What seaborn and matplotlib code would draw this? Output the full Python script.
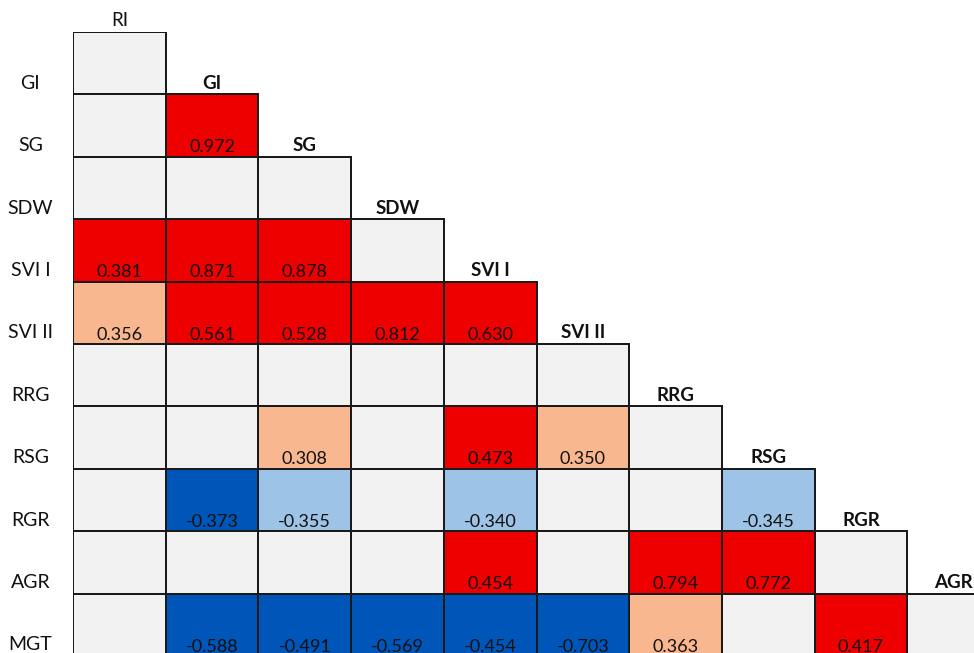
import numpy as np
import pandas as pd
import matplotlib
matplotlib.use("Agg")
import matplotlib.pyplot as plt
import seaborn as sns
from matplotlib.colors import ListedColormap

# Traits on each axis of the lower-triangular correlation matrix
row_traits = ["GI", "SG", "SDW", "SVI I", "SVI II", "RRG", "RSG", "RGR", "AGR", "MGT"]
col_traits = ["RI", "GI", "SG", "SDW", "SVI I", "SVI II", "RRG", "RSG", "RGR", "AGR"]

# Pearson r per row (None = not significant, shown blank)
r_gi = [None]
r_sg = [None, 0.972]
r_sdw = [None, None, None]
r_svi1 = [0.381, 0.871, 0.878, None]
r_svi2 = [0.356, 0.561, 0.528, 0.812, 0.630]
r_rrg = [None, None, None, None, None, None]
r_rsg = [None, None, 0.308, None, 0.473, 0.350, None]
r_rgr = [None, -0.373, -0.355, None, -0.340, None, None, -0.345]
r_agr = [None, None, None, None, 0.454, None, 0.794, 0.772, None]
r_mgt = [None, -0.588, -0.491, -0.569, -0.454, -0.703, 0.363, None, 0.417, None]

# Significance level per cell ("**" p<0.01, "*" p<0.05, "" not significant)
s_gi = [""]
s_sg = ["", "**"]
s_sdw = ["", "", ""]
s_svi1 = ["**", "**", "**", ""]
s_svi2 = ["*", "**", "**", "**", "**"]
s_rrg = ["", "", "", "", "", ""]
s_rsg = ["", "", "*", "", "**", "*", ""]
s_rgr = ["", "**", "*", "", "*", "", "", "*"]
s_agr = ["", "", "", "", "**", "", "**", "**", ""]
s_mgt = ["", "**", "**", "**", "**", "**", "*", "", "**", ""]

r_rows = [r_gi, r_sg, r_sdw, r_svi1, r_svi2, r_rrg, r_rsg, r_rgr, r_agr, r_mgt]
s_rows = [s_gi, s_sg, s_sdw, s_svi1, s_svi2, s_rrg, s_rsg, s_rgr, s_agr, s_mgt]

# Fill colours: not significant, +** , +*, -**, -*
palette = ["#F2F2F2", "#EE0000", "#F8B78E", "#0055B8", "#9DC3E6"]

n_rows, n_cols = len(row_traits), len(col_traits)
values = np.full((n_rows, n_cols), np.nan)
codes = np.full((n_rows, n_cols), np.nan)
for i, (rr, ss) in enumerate(zip(r_rows, s_rows)):
    for j, (v, s) in enumerate(zip(rr, ss)):
        if v is None or s == "":
            codes[i, j] = 0
        else:
            values[i, j] = v
            if v > 0:
                codes[i, j] = 1 if s == "**" else 2
            else:
                codes[i, j] = 3 if s == "**" else 4

code_df = pd.DataFrame(codes, index=row_traits, columns=col_traits)
mask = np.triu(np.ones((n_rows, n_cols), dtype=bool), k=1)

sns.set_theme(style="white")
plt.rcParams["font.family"] = ["Lato", "DejaVu Sans"]

W, H = 974, 653
fig = plt.figure(figsize=(W / 100, H / 100), dpi=100)
left_px, top_px, cell_w, cell_h = 73, 32, 92.7, 62.4
ax = fig.add_axes([left_px / W,
                   1 - (top_px + n_rows * cell_h) / H,
                   n_cols * cell_w / W,
                   n_rows * cell_h / H])

sns.heatmap(code_df, mask=mask, cmap=ListedColormap(palette), vmin=-0.5, vmax=4.5,
            cbar=False, linewidths=1.35, linecolor="black",
            xticklabels=False, yticklabels=False, ax=ax)
ax.tick_params(left=False, bottom=False)

# Only outline the cells of the lower triangle
mesh = ax.collections[0]
edge_rgba = np.array([(0, 0, 0, 0) if m else (0.1, 0.1, 0.1, 1) for m in mask.ravel()])
mesh.set_edgecolor(edge_rgba)

txt_kw = dict(ha="center", va="baseline", color="#111111")

# Correlation values, bottom-aligned in each cell
for i in range(n_rows):
    for j in range(n_cols):
        if not np.isnan(values[i, j]):
            ax.text(j + 0.5, i + 1 - 0.07, f"{values[i, j]:.3f}", fontsize=13, **txt_kw)

# Row labels on the left
for i, name in enumerate(row_traits):
    ax.text(-0.46, i + 1 - 0.09, name, clip_on=False, fontsize=14, **txt_kw)

# Column headers sitting above the diagonal cells
for j, name in enumerate(col_traits):
    ax.text(j + 0.5, j - 0.09, name, clip_on=False, fontsize=13.5,
            fontweight="normal" if j == 0 else "bold", **txt_kw)

fig.savefig("out.png", dpi=100)
